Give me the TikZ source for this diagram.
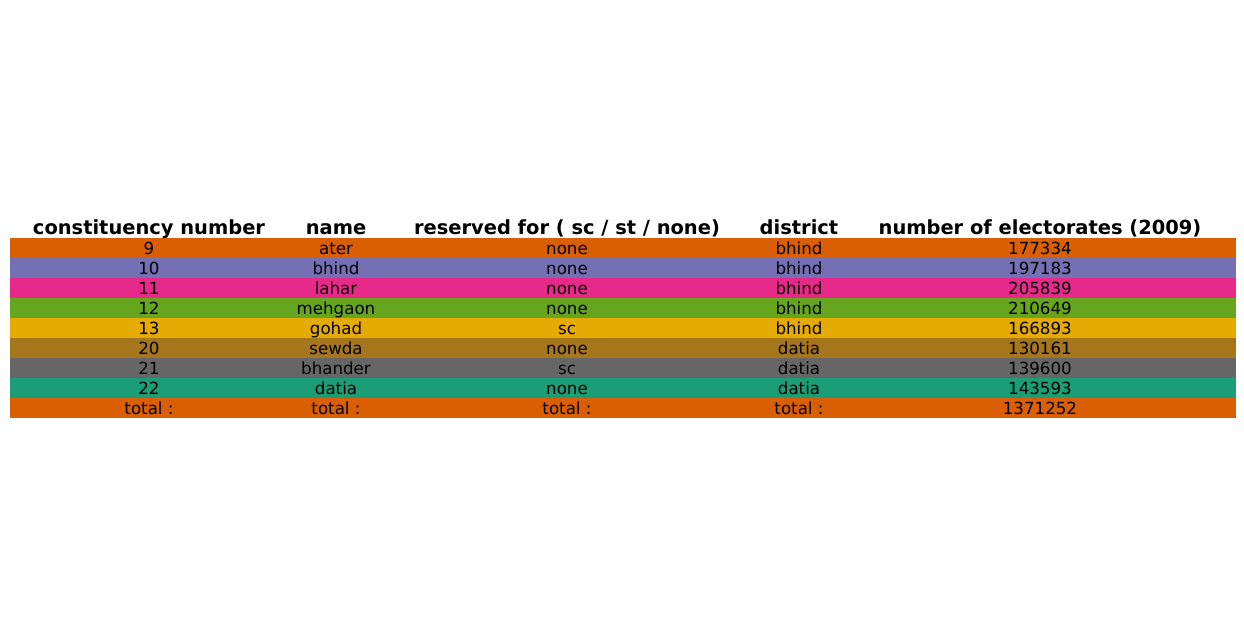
\documentclass[tikz,border=0pt]{standalone}
\usepackage{fontspec}
\setmainfont{DejaVu Sans}
\definecolor{cA}{HTML}{D95F02}
\definecolor{cB}{HTML}{7570B3}
\definecolor{cC}{HTML}{E7298A}
\definecolor{cD}{HTML}{66A61E}
\definecolor{cE}{HTML}{E6AB02}
\definecolor{cF}{HTML}{A6761D}
\definecolor{cG}{HTML}{666666}
\definecolor{cH}{HTML}{1B9E77}
\begin{document}
\begin{tikzpicture}[x=0.72pt,y=-0.72pt,
  cell/.style={anchor=base,inner sep=0pt,font=\fontsize{12}{14}\selectfont},
  head/.style={anchor=base,inner sep=0pt,font=\fontsize{14}{16}\selectfont\bfseries}]
\useasboundingbox (0,0) rectangle (1244,636);
% header
\node[head] (h1) at (149,234) {constituency number};
\node[head] (h2) at (336,234) {name};
\node[head] (h3) at (567,234) {reserved for ( sc / st / none)};
\node[head] (h4) at (799,234) {district};
\node[head] (h5) at (1040,234) {number of electorates (2009)};
% rows
\foreach \c/\a/\b/\r/\d/\e [count=\i from 0] in {
  cA/9/ater/none/bhind/177334,
  cB/10/bhind/none/bhind/197183,
  cC/11/lahar/none/bhind/205839,
  cD/12/mehgaon/none/bhind/210649,
  cE/13/gohad/sc/bhind/166893,
  cF/20/sewda/none/datia/130161,
  cG/21/bhander/sc/datia/139600,
  cH/22/datia/none/datia/143593,
  cA/total :/total :/total :/total :/1371252}{
  \pgfmathsetmacro{\yt}{238+20*\i}
  \fill[\c] (10,\yt) rectangle (1236,\yt+20);
  \node[cell] (r\i c1) at (149,\yt+16) {\a};
  \node[cell] (r\i c2) at (336,\yt+16) {\b};
  \node[cell] (r\i c3) at (567,\yt+16) {\r};
  \node[cell] (r\i c4) at (799,\yt+16) {\d};
  \node[cell] (r\i c5) at (1040,\yt+16) {\e};
}
\end{tikzpicture}
\end{document}
